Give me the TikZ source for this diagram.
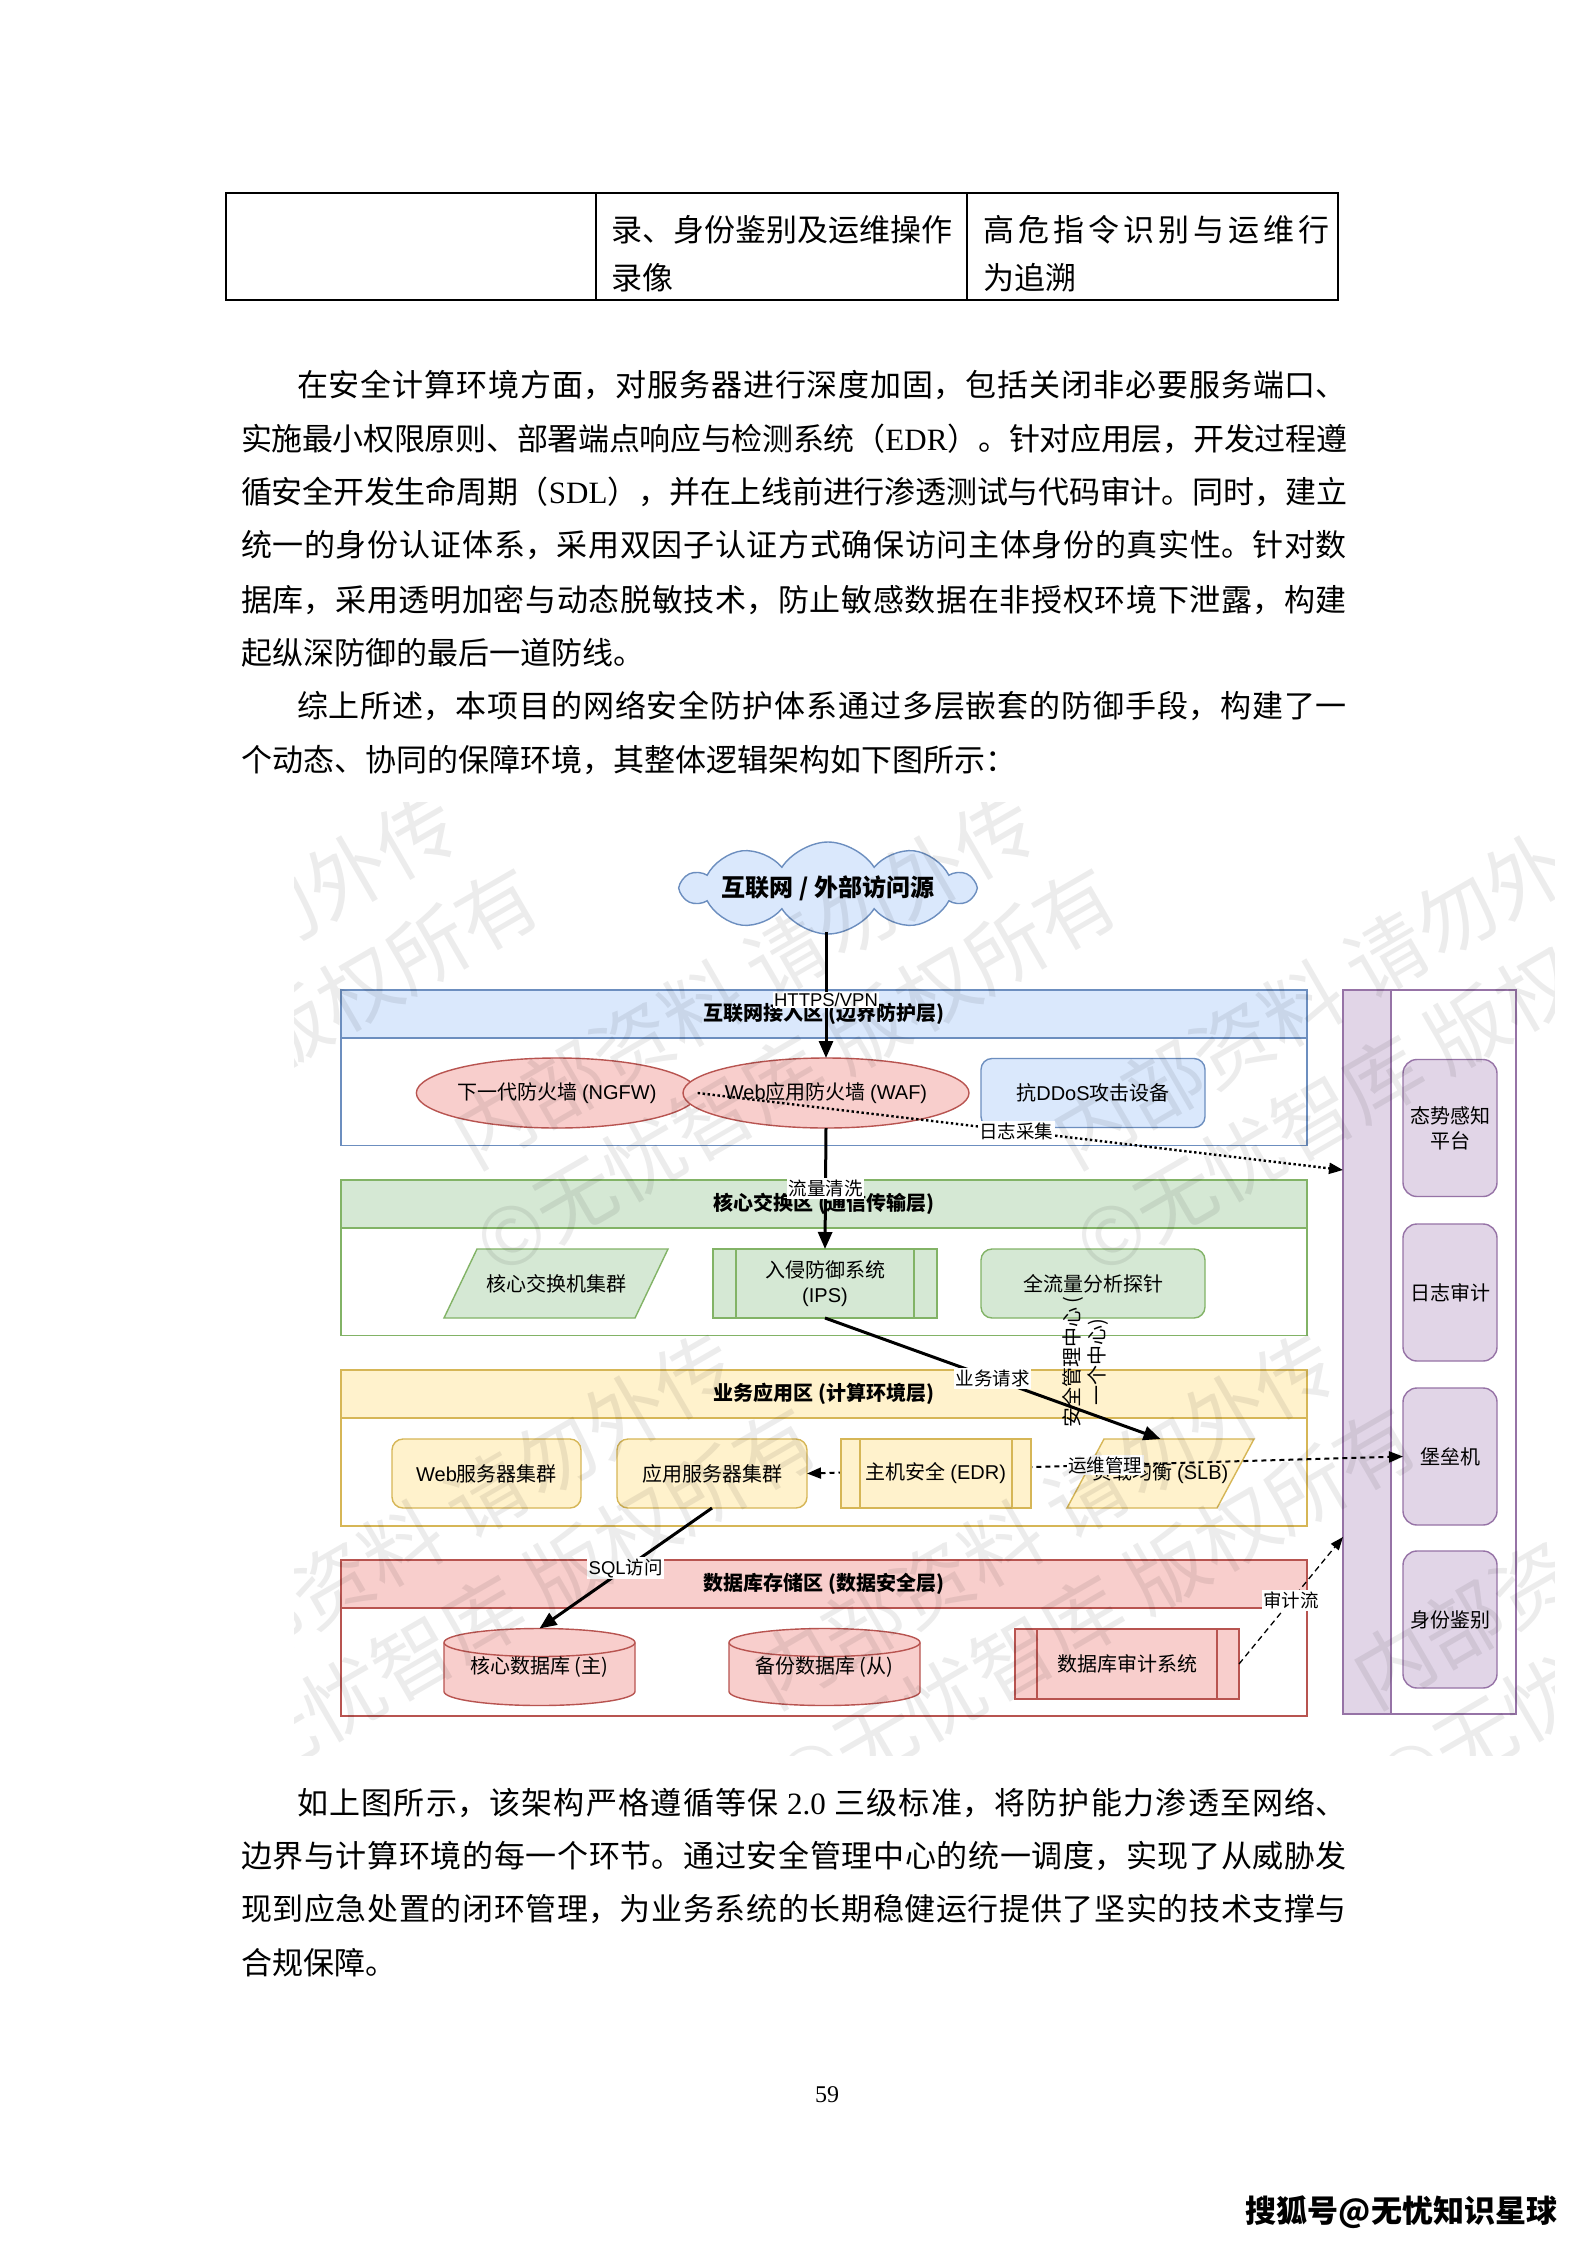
\documentclass[tikz,border=0pt]{standalone}
\usepackage{fontspec}
\setmainfont{Noto Sans CJK SC}
\newfontfamily\lsans{Liberation Sans}
\newfontfamily\lserif{Liberation Serif}
\usetikzlibrary{arrows.meta,shapes.geometric,shapes.symbols}
\XeTeXlinebreaklocale "zh"
\XeTeXlinebreakskip=0pt plus 8pt minus 1.5pt
\definecolor{bfill}{HTML}{DAE8FC}\definecolor{bstroke}{HTML}{6C8EBF}
\definecolor{gfill}{HTML}{D5E8D4}\definecolor{gstroke}{HTML}{82B366}
\definecolor{yfill}{HTML}{FFF2CC}\definecolor{ystroke}{HTML}{D6B656}
\definecolor{rfill}{HTML}{F8CECC}\definecolor{rstroke}{HTML}{B85450}
\definecolor{pfill}{HTML}{E1D5E7}\definecolor{pstroke}{HTML}{9673A6}
\pgfdeclarelayer{bgl}
\pgfdeclarelayer{midl}
\pgfsetlayers{bgl,midl,main}
\newcommand\fBody{\fontsize{31pt}{37pt}\selectfont}
\newcommand\fNode{\fontsize{20pt}{25pt}\selectfont}
\newcommand\fLbl{\fontsize{18.5pt}{22pt}\selectfont}
\newcommand\fCloud{\fontsize{24pt}{28pt}\selectfont}
\newcommand\jline[2]{\parbox[b]{#1}{\tolerance=10000\hbadness=10000\parindent=0pt\parfillskip=0pt #2}}
\newcommand\latn[1]{{\lsans #1}}
\tikzset{
  every node/.style={inner sep=0pt, outer sep=0pt, text=black},
  bodyl/.style={anchor=base west, font=\fBody},
  tbl/.style={draw=black, line width=1.5pt},
  txt/.style={font=\fNode, align=center},
  zbody/.style={draw=#1, fill=white, line width=1.6pt, minimum width=966pt, minimum height=156pt},
  zhead/.style={draw=#1, line width=1.6pt, minimum width=966pt, minimum height=48pt, font=\fNode\bfseries},
  bbox/.style={txt, draw=bstroke, fill=bfill, line width=1.4pt},
  gbox/.style={txt, draw=gstroke, fill=gfill, line width=1.4pt},
  ybox/.style={txt, draw=ystroke, fill=yfill, line width=1.4pt},
  rbox/.style={txt, draw=rstroke, fill=rfill, line width=1.4pt},
  pbox/.style={txt, draw=pstroke, fill=pfill, line width=1.4pt, rounded corners=14pt, minimum width=94pt, minimum height=137pt},
  gshape/.style={draw=gstroke, fill=gfill, line width=1.4pt},
  yshape/.style={draw=ystroke, fill=yfill, line width=1.4pt},
  rshape/.style={draw=rstroke, fill=rfill, line width=1.4pt},
  solidarr/.style={draw=black, line width=3pt, -{Triangle[length=17pt,width=14pt]}},
  dotarr/.style={draw=black, line width=2.4pt, dash pattern=on 2.4pt off 2.6pt, -{Triangle[length=14pt,width=11pt]}},
  dasharr/.style={draw=black, line width=2pt, dash pattern=on 5pt off 4pt, {Triangle[length=14pt,width=11pt]}-{Triangle[length=14pt,width=11pt]}},
  auditarr/.style={draw=black, line width=1.3pt, dash pattern=on 6pt off 4pt, -{Triangle[length=13pt,width=10pt]}},
  lbl/.style={fill=white, font=\fLbl, inner sep=1.5pt},
  wm/.style={rotate=30, align=center, font=\fontsize{80pt}{104pt}\selectfont, text=black, text opacity=0.075},
}
\begin{document}
\begin{tikzpicture}[x=1pt, y=-1pt]
\begin{pgfonlayer}{bgl}
\fill[white] (0,0) rectangle (1587,2245);
\end{pgfonlayer}
\useasboundingbox (0,0) rectangle (1587,2245);

% ---------- table ----------
\draw[tbl] (226,193) rectangle (1338,300);
\draw[tbl] (596,193) -- (596,300);
\draw[tbl] (967,193) -- (967,300);
\node[bodyl] (c1) at (611,241) {录、身份鉴别及运维操作};
\node[bodyl] (c2) at (611,289) {录像};
\node[bodyl] (c3) at (983,241) {\jline{347pt}{高危指令识别与运维行}};
\node[bodyl] (c4) at (983,289) {为追溯};

% ---------- body text ----------
\node[bodyl] (t1) at (241,396) {\jline{1106pt}{\hspace*{56pt}在安全计算环境方面，对服务器进行深度加固，包括关闭非必要服务端口、}};
\node[bodyl] (t2) at (241,450) {\jline{1106pt}{实施最小权限原则、部署端点响应与检测系统（{\lserif EDR}）。针对应用层，开发过程遵}};
\node[bodyl] (t3) at (241,503) {\jline{1106pt}{循安全开发生命周期（{\lserif SDL}），并在上线前进行渗透测试与代码审计。同时，建立}};
\node[bodyl] (t4) at (241,556) {\jline{1106pt}{统一的身份认证体系，采用双因子认证方式确保访问主体身份的真实性。针对数}};
\node[bodyl] (t5) at (241,611) {\jline{1106pt}{据库，采用透明加密与动态脱敏技术，防止敏感数据在非授权环境下泄露，构建}};
\node[bodyl] (t6) at (241,664) {起纵深防御的最后一道防线。};
\node[bodyl] (t7) at (241,717) {\jline{1106pt}{\hspace*{56pt}综上所述，本项目的网络安全防护体系通过多层嵌套的防御手段，构建了一}};
\node[bodyl] (t8) at (241,771) {个动态、协同的保障环境，其整体逻辑架构如下图所示：};
\node[bodyl] (t9) at (241,1814) {\jline{1106pt}{\hspace*{56pt}如上图所示，该架构严格遵循等保{\lserif\ 2.0\ }三级标准，将防护能力渗透至网络、}};
\node[bodyl] (t10) at (241,1867) {\jline{1106pt}{边界与计算环境的每一个环节。通过安全管理中心的统一调度，实现了从威胁发}};
\node[bodyl] (t11) at (241,1920) {\jline{1106pt}{现到应急处置的闭环管理，为业务系统的长期稳健运行提供了坚实的技术支撑与}};
\node[bodyl] (t12) at (241,1974) {合规保障。};
\node[font=\lserif\fontsize{24pt}{28pt}\selectfont] (pg) at (827,2095) {59};
\node[anchor=east, font=\fontsize{31pt}{36pt}\selectfont\bfseries] (sohu) at (1557,2212) {搜狐号@无忧知识星球};

% ---------- zones ----------
\begin{pgfonlayer}{bgl}
\node[zbody=bstroke] (zb1) at (824,1067.5) {};
\node[zhead=bstroke, fill=bfill] (zh1) at (824,1014) {互联网接入区 (边界防护层)};
\node[zbody=gstroke] (zb2) at (824,1257.5) {};
\node[zhead=gstroke, fill=gfill] (zh2) at (824,1204) {核心交换区 (通信传输层)};
\node[zbody=ystroke] (zb3) at (824,1448) {};
\node[zhead=ystroke, fill=yfill] (zh3) at (824,1394) {业务应用区 (计算环境层)};
\node[zbody=rstroke] (zb4) at (824,1638) {};
\node[zhead=rstroke, fill=rfill] (zh4) at (824,1584) {数据库存储区 (数据安全层)};
\node[draw=pstroke, fill=white, line width=1.5pt, minimum width=173pt, minimum height=724pt] (pool) at (1429.5,1352) {};
\node[draw=pstroke, fill=pfill, line width=1.5pt, minimum width=48pt, minimum height=724pt] (poolstrip) at (1367,1352) {};
\end{pgfonlayer}

% ---------- nodes ----------
\node[cloud, cloud puffs=10, cloud puff arc=115, cloud ignores aspect, minimum width=248pt, minimum height=92pt, draw=bstroke, fill=bfill, line width=1.4pt, font=\fCloud\bfseries] (cloud) at (828,888) {互联网 / 外部访问源};

\node[ellipse, rbox, minimum width=224pt, minimum height=70pt] (ngfw) at (557,1093) {下一代防火墙 \latn{(NGFW)}};
\node[ellipse, rbox, minimum width=224pt, minimum height=70pt] (waf) at (826,1093) {\latn{Web}应用防火墙 \latn{(WAF)}};
\node[bbox, rounded corners=11pt, minimum width=224pt, minimum height=69pt] (ddos) at (1093,1093) {抗\latn{DDoS}攻击设备};

\node[txt, minimum width=224pt, minimum height=69pt] (core) at (556,1283.5) {核心交换机集群};
\node[gbox, minimum width=224pt, minimum height=69pt] (ips) at (825,1283.5) {入侵防御系统\\\latn{(IPS)}};
\draw[gstroke, line width=1.4pt] ([xshift=23pt]ips.north west) -- ([xshift=23pt]ips.south west);
\draw[gstroke, line width=1.4pt] ([xshift=-23pt]ips.north east) -- ([xshift=-23pt]ips.south east);
\node[gbox, rounded corners=11pt, minimum width=224pt, minimum height=69pt] (probe) at (1093,1283.5) {全流量分析探针};

\node[ybox, rounded corners=11pt, minimum width=189pt, minimum height=69pt] (web) at (486.5,1473.5) {\latn{Web}服务器集群};
\node[ybox, rounded corners=11pt, minimum width=190pt, minimum height=69pt] (app) at (712,1473.5) {应用服务器集群};
\node[txt, minimum width=187pt, minimum height=69pt] (slb) at (1160.5,1473.5) {负载均衡 \latn{(SLB)}};

\node[txt, minimum width=191pt, minimum height=77pt] (db1) at (539.5,1667) {核心数据库 (主)};
\node[txt, minimum width=191pt, minimum height=77pt] (db2) at (824.5,1667) {备份数据库 (从)};
\node[rbox, minimum width=224pt, minimum height=70pt] (audit) at (1127,1664) {数据库审计系统};
\draw[rstroke, line width=1.4pt] ([xshift=22pt]audit.north west) -- ([xshift=22pt]audit.south west);
\draw[rstroke, line width=1.4pt] ([xshift=-22pt]audit.north east) -- ([xshift=-22pt]audit.south east);

\node[pbox] (sa) at (1450,1128) {态势感知\\平台};
\node[pbox] (logaud) at (1450,1292.5) {日志审计};
\node[pbox] (bastion) at (1450,1456.5) {堡垒机};
\node[pbox] (idauth) at (1450,1619.5) {身份鉴别};

\begin{pgfonlayer}{midl}
\draw[gshape] ([xshift=33pt]core.north west) -- (core.north east) -- ([xshift=-33pt]core.south east) -- (core.south west) -- cycle;
\draw[yshape] ([xshift=37pt]slb.north west) -- (slb.north east) -- ([xshift=-37pt]slb.south east) -- (slb.south west) -- cycle;
\path[rshape] (db1.north west) ++(0,14) -- ++(0,49) arc[start angle=180,end angle=360,x radius=95.5pt,y radius=14pt] -- ++(0,-49) arc[start angle=0,end angle=180,x radius=95.5pt,y radius=14pt] -- cycle;
\draw[rstroke, line width=1.4pt] (db1.north west) ++(0,14) arc[start angle=180,end angle=360,x radius=95.5pt,y radius=14pt];
\path[rshape] (db2.north west) ++(0,14) -- ++(0,49) arc[start angle=180,end angle=360,x radius=95.5pt,y radius=14pt] -- ++(0,-49) arc[start angle=0,end angle=180,x radius=95.5pt,y radius=14pt] -- cycle;
\draw[rstroke, line width=1.4pt] (db2.north west) ++(0,14) arc[start angle=180,end angle=360,x radius=95.5pt,y radius=14pt];
\end{pgfonlayer}

% ---------- connectors ----------
\coordinate (logend) at (1343,1170);
\coordinate (auditend) at (1343,1537);
\coordinate (cloudfoot) at (826,932);
\draw[solidarr] (cloudfoot) -- node[lbl, pos=0.54] (l1) {\latn{HTTPS/VPN}} (waf.north);
\draw[solidarr] (waf.south) -- node[lbl, pos=0.5] (l2) {流量清洗} (ips.north);
\draw[solidarr] (ips.south) -- node[lbl, pos=0.5] (l3) {业务请求} (slb.north);
\draw[solidarr] (app.south) -- node[lbl, pos=0.5] (l4) {\latn{SQL}访问} (db1.north);
\draw[dotarr] (ngfw.east) -- node[lbl, pos=0.494] (l5) {日志采集} (logend);
\draw[dasharr] (app.east) -- node[lbl, pos=0.5] (l6) {运维管理} (bastion.west);
\draw[auditarr] (audit.east) -- node[lbl, pos=0.5] (l7) {审计流} (auditend);

% EDR drawn over the management line
\node[ybox, minimum width=190pt, minimum height=69pt] (edr) at (936,1473.5) {主机安全 \latn{(EDR)}};
\draw[ystroke, line width=1.4pt] ([xshift=19pt]edr.north west) -- ([xshift=19pt]edr.south west);
\draw[ystroke, line width=1.4pt] ([xshift=-19pt]edr.north east) -- ([xshift=-19pt]edr.south east);

\node[rotate=90, txt] (soc) at (1085,1362) {安全管理中心 (\\一个中心)};

% ---------- watermark ----------
\begin{scope}
\clip (294,802) rectangle (1554,1755);
\node[wm] (wa) at (192,1025) {内部资料 请勿外传\\©无忧智库 版权所有};
\node[wm] (wb) at (770,1025) {内部资料 请勿外传\\©无忧智库 版权所有};
\node[wm] (wc) at (1370,1025) {内部资料 请勿外传\\©无忧智库 版权所有};
\node[wm] (wd) at (-130,1565) {内部资料 请勿外传\\©无忧智库 版权所有};
\node[wm] (we) at (470,1565) {内部资料 请勿外传\\©无忧智库 版权所有};
\node[wm] (wf) at (1070,1565) {内部资料 请勿外传\\©无忧智库 版权所有};
\node[wm] (wg) at (1670,1565) {内部资料 请勿外传\\©无忧智库 版权所有};
\end{scope}
\end{tikzpicture}
\end{document}
